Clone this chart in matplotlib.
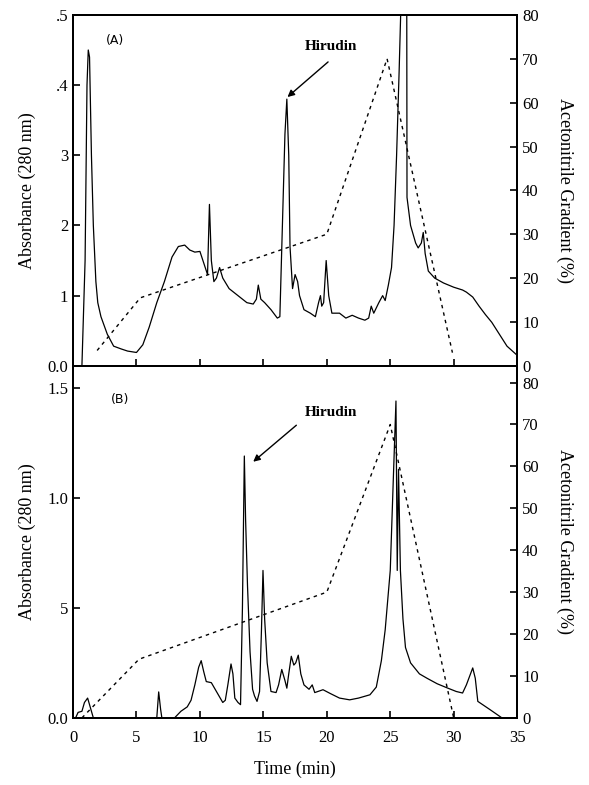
import matplotlib
matplotlib.use("Agg")
import matplotlib.pyplot as plt

# Panel A: absorbance trace (time in min, absorbance at 280 nm)
time_a = [0.7, 0.95, 1.1, 1.2, 1.3, 1.45, 1.6, 1.8, 1.95, 2.2, 2.7, 3.2, 3.8, 4.3, 5.0,
          5.5, 6.0, 6.6, 7.2, 7.8, 8.3, 8.8, 9.2, 9.6, 10.0, 10.6, 10.75, 10.9, 11.1,
          11.3, 11.55, 11.8, 12.3, 13.0, 13.7, 14.2, 14.45, 14.6, 14.8, 15.1, 15.6,
          16.1, 16.3, 16.5, 16.7, 16.85, 17.0, 17.1, 17.3, 17.5, 17.7, 17.85, 18.2,
          18.7, 19.1, 19.35, 19.5, 19.6, 19.75, 19.95, 20.15, 20.4, 21.0, 21.5, 22.0,
          22.5, 23.0, 23.3, 23.5, 23.7, 24.1, 24.4, 24.6, 24.85, 25.1, 25.3, 25.5,
          25.7, 25.85, 26.3, 26.32, 26.6, 27.0, 27.2, 27.45, 27.6, 27.75, 28.0, 28.5,
          29.2, 30.0, 30.7, 31.0, 31.5, 32.0, 32.5, 33.0, 33.6, 34.2, 35.0]
abs_a = [0.0, 0.15, 0.40, 0.45, 0.44, 0.30, 0.20, 0.12, 0.09, 0.07, 0.045, 0.028, 0.024,
         0.021, 0.019, 0.03, 0.055, 0.09, 0.12, 0.155, 0.17, 0.172, 0.165, 0.162, 0.163,
         0.13, 0.23, 0.15, 0.12, 0.125, 0.14, 0.125, 0.11, 0.10, 0.09, 0.088, 0.095,
         0.115, 0.095, 0.09, 0.08, 0.068, 0.07, 0.20, 0.33, 0.38, 0.30, 0.17, 0.11,
         0.13, 0.12, 0.10, 0.08, 0.075, 0.07, 0.09, 0.10, 0.085, 0.09, 0.15, 0.10,
         0.075, 0.075, 0.068, 0.072, 0.068, 0.065, 0.068, 0.085, 0.075, 0.09, 0.10,
         0.093, 0.115, 0.14, 0.20, 0.30, 0.42, 0.52, 0.52, 0.24, 0.20, 0.175, 0.168,
         0.175, 0.19, 0.16, 0.135, 0.125, 0.118, 0.112, 0.108, 0.105, 0.098, 0.085,
         0.073, 0.062, 0.045, 0.028, 0.015]

# Panel A: acetonitrile gradient (%)
grad_time_a = [1.9, 5.3, 20.0, 24.75, 29.9]
grad_a = [3.5, 15.5, 30.0, 70.0, 3.0]

# Panel B: absorbance trace
time_b = [0.2, 0.4, 0.7, 0.9, 1.15, 1.35, 1.6, 6.6, 6.75, 6.9, 7.0, 8.0, 8.5, 9.0, 9.3,
          9.6, 9.9, 10.1, 10.3, 10.5, 10.9, 11.2, 11.5, 11.8, 12.0, 12.2, 12.45, 12.6,
          12.75, 13.0, 13.2, 13.35, 13.5, 13.6, 13.75, 13.95, 14.15, 14.3, 14.5, 14.7,
          14.85, 14.97, 15.1, 15.3, 15.6, 16.0, 16.2, 16.45, 16.7, 16.85, 17.0, 17.2,
          17.4, 17.55, 17.75, 17.95, 18.2, 18.6, 18.85, 19.05, 19.7, 20.3, 21.0, 21.8,
          22.5, 23.4, 23.9, 24.3, 24.6, 25.0, 25.25, 25.45, 25.55, 25.65, 25.8, 26.0,
          26.2, 26.6, 27.3, 27.9, 28.7, 29.5, 30.2, 30.7, 31.0, 31.5, 31.7, 31.9, 32.9,
          33.8]
abs_b = [0.0, 0.025, 0.03, 0.07, 0.09, 0.05, 0.0, 0.0, 0.118, 0.04, 0.0, 0.0, 0.03,
         0.05, 0.08, 0.15, 0.23, 0.26, 0.21, 0.165, 0.16, 0.13, 0.10, 0.07, 0.08, 0.15,
         0.245, 0.20, 0.09, 0.07, 0.06, 0.50, 1.19, 0.90, 0.60, 0.30, 0.13, 0.10, 0.075,
         0.12, 0.40, 0.67, 0.45, 0.25, 0.12, 0.115, 0.15, 0.22, 0.17, 0.135, 0.20, 0.28,
         0.24, 0.25, 0.285, 0.20, 0.15, 0.13, 0.15, 0.115, 0.128, 0.11, 0.09, 0.082,
         0.09, 0.105, 0.14, 0.26, 0.40, 0.67, 1.10, 1.44, 0.67, 1.13, 0.67, 0.45, 0.32,
         0.25, 0.20, 0.18, 0.155, 0.136, 0.12, 0.113, 0.15, 0.227, 0.18, 0.075, 0.036,
         0.0]

# Panel B: acetonitrile gradient (%)
grad_time_b = [0.7, 5.2, 20.0, 25.0, 30.0]
grad_b = [0.0, 14.0, 30.0, 70.0, 0.0]

# axis tick labels as printed
time_ticks = [0, 5, 10, 15, 20, 25, 30, 35]
abs_ticks_a = [0.0, 0.1, 0.2, 0.3, 0.4, 0.5]
abs_labels_a = ["0.0", "1", "2", "3", ".4", ".5"]
abs_ticks_b = [0.0, 0.5, 1.0, 1.5]
abs_labels_b = ["0.0", "5", "1.0", "1.5"]
grad_ticks = [0, 10, 20, 30, 40, 50, 60, 70, 80]

plt.rcParams['font.family'] = ['Liberation Serif', 'DejaVu Serif']

fig = plt.figure(figsize=(5.89, 7.85), dpi=100)
ax_a = fig.add_axes([0.124, 0.534, 0.754, 0.447])
ax_b = fig.add_axes([0.124, 0.0855, 0.754, 0.4485])


def style_axes(ax, ax2):
    for a in (ax, ax2):
        for s in a.spines.values():
            s.set_linewidth(1.4)
        a.tick_params(direction='in', length=5, width=1.2, labelsize=12)
    ax.tick_params(axis='x', pad=9)
    ax.set_xlim(0, 35)
    ax.set_xticks(time_ticks)


def hirudin_label(ax, text_xy, tail, head):
    ax.text(text_xy[0], text_xy[1], "Hirudin", fontsize=11, fontweight='bold',
            ha='center', va='center')
    ax.annotate("", xy=head, xytext=tail,
                arrowprops=dict(arrowstyle='-|>', color='black', lw=1.0,
                                shrinkA=0, shrinkB=0, mutation_scale=10))


# ---- panel A ----
ax_a2 = ax_a.twinx()
ax_a.plot(time_a, abs_a, color='black', lw=0.9)
ax_a2.plot(grad_time_a, grad_a, color='black', lw=1.0, linestyle=(0, (2.5, 3)))
style_axes(ax_a, ax_a2)
ax_a.set_ylim(0, 0.5)
ax_a.set_yticks(abs_ticks_a)
ax_a.set_yticklabels(abs_labels_a)
ax_a.tick_params(axis='x', labelbottom=False)
ax_a2.set_ylim(0, 80)
ax_a2.set_yticks(grad_ticks)
ax_a.set_ylabel("Absorbance (280 nm)", fontsize=13, labelpad=8)
ax_a2.set_ylabel("Acetonitrile Gradient (%)", fontsize=13, rotation=270, labelpad=25)
ax_a.text(3.3, 0.463, "(A)", fontsize=9, family='DejaVu Sans', ha='center', va='center')
hirudin_label(ax_a, (20.3, 0.455), (20.1, 0.433), (16.9, 0.383))

# ---- panel B ----
ax_b2 = ax_b.twinx()
ax_b.plot(time_b, abs_b, color='black', lw=0.9)
ax_b2.plot(grad_time_b, grad_b, color='black', lw=1.0, linestyle=(0, (2.5, 3)))
style_axes(ax_b, ax_b2)
ax_b.set_ylim(0, 1.6)
ax_b.set_yticks(abs_ticks_b)
ax_b.set_yticklabels(abs_labels_b)
ax_b2.set_ylim(0, 84)
ax_b2.set_yticks(grad_ticks)
ax_b.set_xlabel("Time (min)", fontsize=13, labelpad=10)
ax_b.set_ylabel("Absorbance (280 nm)", fontsize=13, labelpad=8)
ax_b2.set_ylabel("Acetonitrile Gradient (%)", fontsize=13, rotation=270, labelpad=25)
ax_b.text(3.7, 1.445, "(B)", fontsize=9, family='DejaVu Sans', ha='center', va='center')
hirudin_label(ax_b, (20.3, 1.39), (17.6, 1.33), (14.2, 1.164))

fig.savefig("out.png", dpi=100)
